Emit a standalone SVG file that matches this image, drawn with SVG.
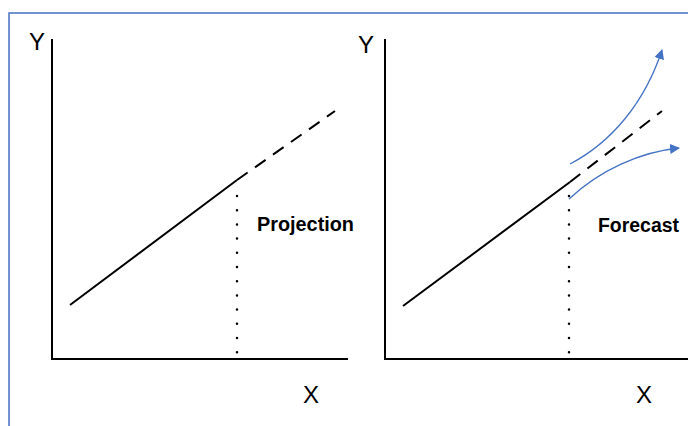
<svg xmlns="http://www.w3.org/2000/svg" width="688" height="426" viewBox="0 0 688 426">
<style>
.axis{stroke:#000;stroke-width:2;fill:none}
.line{stroke:#000;stroke-width:2;fill:none}
.dash{stroke:#000;stroke-width:2;fill:none;stroke-dasharray:13 9}
.dot{stroke:#000;stroke-width:2.5;fill:none;stroke-dasharray:0 14.2;stroke-linecap:round}
.lbl{font-family:"Liberation Sans",Arial,sans-serif;font-size:24px;fill:#000}
.bold{font-family:"Liberation Sans",Arial,sans-serif;font-size:19.5px;font-weight:bold;fill:#000}
.blue{stroke:#4472C4;stroke-width:1.3;fill:none;marker-end:url(#ah)}
</style>
<defs>
<marker id="ah" viewBox="0 0 10 10" refX="9" refY="5" markerWidth="10" markerHeight="10" markerUnits="userSpaceOnUse" orient="auto">
<path d="M0,0 L10,5 L0,10 z" fill="#4472C4"/>
</marker>
</defs>
<rect x="0" y="0" width="688" height="426" fill="#fff"/>
<rect id="frame" x="9" y="13" width="700" height="430" fill="none" stroke="#4472C4" stroke-width="1.5"/>
<g id="chart-projection">
<path class="axis" d="M52,39 V359 H348"/>
<text class="lbl" x="29" y="50">Y</text>
<text class="lbl" x="303" y="403">X</text>
<text class="bold" x="257" y="231" textLength="97" lengthAdjust="spacingAndGlyphs">Projection</text>
</g>
<g id="chart-forecast">
<path class="axis" d="M385,39 V359 H688"/>
<text class="lbl" x="358" y="53">Y</text>
<text class="lbl" x="636" y="403">X</text>
<text class="bold" x="598" y="232" textLength="81" lengthAdjust="spacingAndGlyphs">Forecast</text>
</g>
<g id="connectors">
<path class="line" d="M70,305 L237,180"/>
<path class="dash" d="M237,180 L335,111"/>
<path class="dot" d="M237,196 V356"/>
<path class="line" d="M403,306 L570,182"/>
<path class="dash" d="M570,182 L662,111"/>
<path class="dot" d="M569,196 V356"/>
<path class="blue" d="M570,164 C612,142 645,102 662,50"/>
<path class="blue" d="M569,199 C600,170 640,152 679,148"/>
</g>
</svg>
